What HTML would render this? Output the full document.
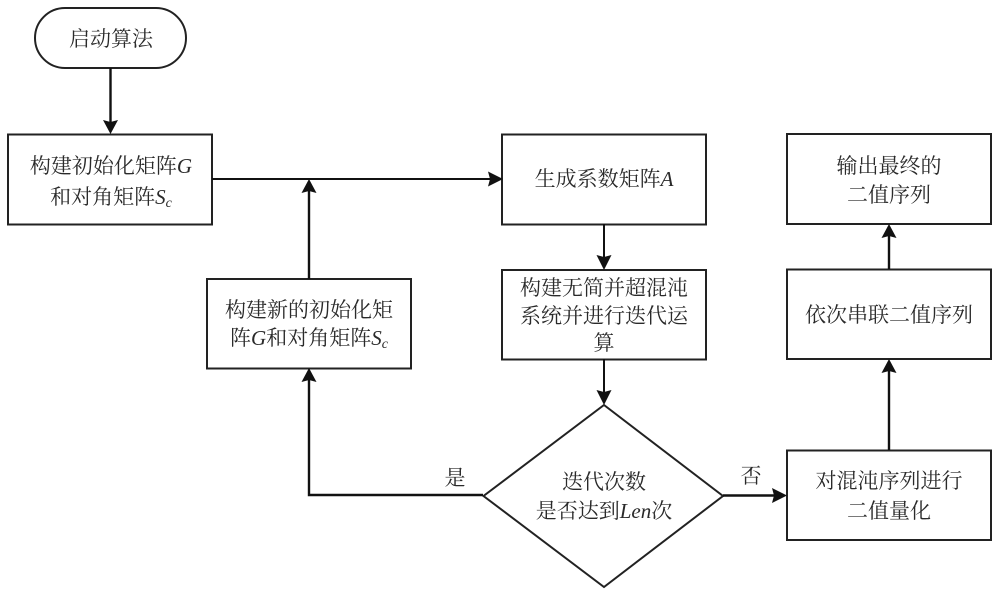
<!DOCTYPE html>
<html lang="zh">
<head>
<meta charset="utf-8">
<style>
html,body{margin:0;padding:0;background:#fff;}
svg{display:block;}
text{font-family:"Liberation Serif","Noto Serif CJK SC",serif;font-size:21px;fill:#2a2a2a;text-anchor:middle;}
tspan.i{font-style:italic;}
.b{fill:#fff;stroke:#222;stroke-width:2;}
.l{fill:none;stroke:#111;stroke-width:2.4;}
.t{fill:none;stroke:#111;stroke-width:2;}
.a{fill:#111;stroke:none;}
</style>
</head>
<body>
<svg width="1000" height="594" viewBox="0 0 1000 594" xmlns="http://www.w3.org/2000/svg">
<rect x="35" y="8" width="151" height="60" rx="30" ry="30" class="b"/>
<rect x="8" y="134.500" width="204" height="90" class="b"/>
<rect x="207" y="279" width="204" height="89.500" class="b"/>
<rect x="502" y="134.500" width="204" height="90" class="b"/>
<rect x="502" y="270" width="204" height="89.500" class="b"/>
<rect x="787" y="134" width="204" height="90" class="b"/>
<rect x="787" y="269.500" width="204" height="89.500" class="b"/>
<rect x="787" y="450.500" width="204" height="89.500" class="b"/>
<polygon points="604,405 723,496 604,587 483.500,496" class="b"/>

<path d="M110.500 68V124" class="l"/>
<polygon points="103,120 110.500,122 118,120 110.500,134" class="a"/>
<path d="M212 179H493" class="t"/>
<polygon points="488,171.500 490,179 488,186.500 503,179" class="a"/>
<path d="M309 279V190" class="l"/>
<polygon points="301.500,193 309,191 316.500,193 309,179" class="a"/>
<path d="M483 495H309V380" class="l"/>
<polygon points="301.500,382 309,380 316.500,382 309,368" class="a"/>
<path d="M604 224V260" class="t"/>
<polygon points="596.500,255 604,257 611.500,255 604,270" class="a"/>
<path d="M604 359V395" class="t"/>
<polygon points="596.500,390 604,392 611.500,390 604,405" class="a"/>
<path d="M723 495.500H775" class="l"/>
<polygon points="772,488 774,495.500 772,503 787,495.500" class="a"/>
<path d="M889 450V370" class="l"/>
<polygon points="881.500,373 889,371 896.500,373 889,359" class="a"/>
<path d="M889 269V235" class="l"/>
<polygon points="881.500,238 889,236 896.500,238 889,224" class="a"/>

<text x="111" y="46">启动算法</text>
<text x="111" y="173">构建初始化矩阵<tspan class="i">G</tspan></text>
<text x="111" y="204">和对角矩阵<tspan class="i">S</tspan><tspan class="i" font-size="14" dy="3">c</tspan></text>
<text x="309" y="317">构建新的初始化矩</text>
<text x="309" y="345">阵<tspan class="i">G</tspan>和对角矩阵<tspan class="i">S</tspan><tspan class="i" font-size="14" dy="3">c</tspan></text>
<text x="604" y="186">生成系数矩阵<tspan class="i">A</tspan></text>
<text x="604" y="295">构建无简并超混沌</text>
<text x="604" y="323">系统并进行迭代运</text>
<text x="604" y="350">算</text>
<text x="604" y="489">迭代次数</text>
<text x="604" y="518">是否达到<tspan class="i">Len</tspan>次</text>
<text x="455" y="485">是</text>
<text x="751" y="483">否</text>
<text x="889" y="488">对混沌序列进行</text>
<text x="889" y="518">二值量化</text>
<text x="889" y="173">输出最终的</text>
<text x="889" y="202">二值序列</text>
<text x="889" y="322">依次串联二值序列</text>
</svg>
</body>
</html>
